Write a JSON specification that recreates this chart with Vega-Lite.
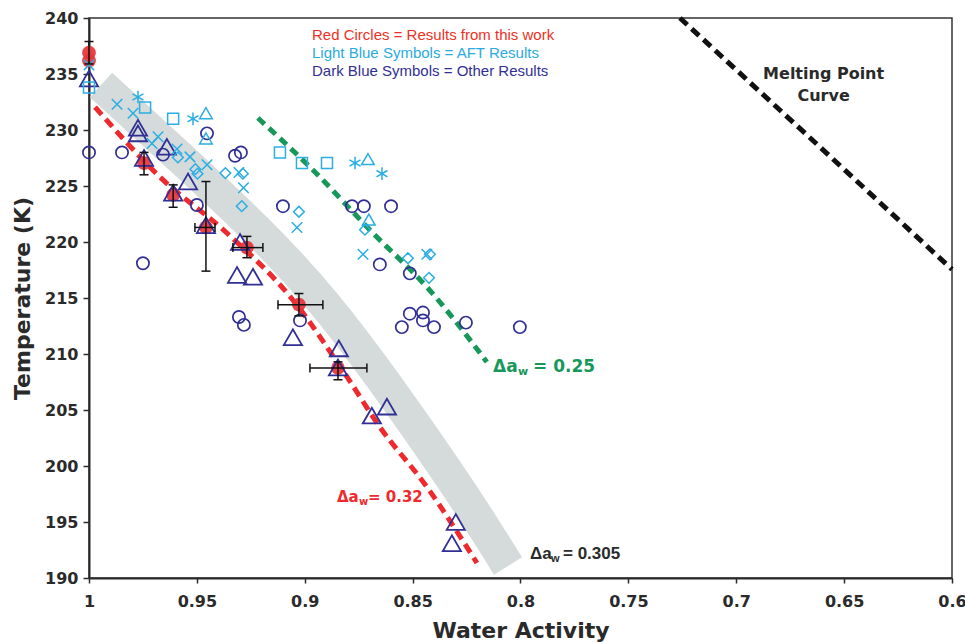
{
  "$schema": "https://vega.github.io/schema/vega-lite/v6.json",
  "width": 863,
  "height": 560,
  "autosize": {"type": "none"},
  "padding": {"left": 89, "top": 18, "right": 13, "bottom": 65},
  "background": "white",
  "config": {
    "view": {"stroke": "#333333", "strokeWidth": 1.5},
    "axis": {
      "grid": false,
      "domainColor": "#2a2a2a",
      "domainWidth": 2,
      "tickColor": "#2a2a2a",
      "tickWidth": 1.5,
      "labelFont": "DejaVu Sans",
      "labelFontWeight": "bold",
      "labelFontSize": 16,
      "labelColor": "#2a2a2a",
      "titleFont": "DejaVu Sans",
      "titleFontWeight": "bold",
      "titleFontSize": 22,
      "titleColor": "#2a2a2a",
      "labelFlush": false,
      "labelOverlap": false
    }
  },
  "datasets": {
    "band": [
      {"aw": 0.99444, "T": 234.02},
      {"aw": 0.95643, "T": 227.32},
      {"aw": 0.92167, "T": 221.07},
      {"aw": 0.89108, "T": 214.82},
      {"aw": 0.85678, "T": 205.89},
      {"aw": 0.8248, "T": 196.96},
      {"aw": 0.80579, "T": 191.07}
    ],
    "melt": [
      {"aw": 0.7261, "T": 240.0},
      {"aw": 0.6627, "T": 228.75},
      {"aw": 0.6, "T": 217.55}
    ],
    "redLine": [
      {"aw": 0.9972, "T": 232.05},
      {"aw": 0.9671, "T": 225.8},
      {"aw": 0.9361, "T": 220.8},
      {"aw": 0.9055, "T": 214.82},
      {"aw": 0.8804, "T": 207.95},
      {"aw": 0.8652, "T": 203.48},
      {"aw": 0.8434, "T": 198.13},
      {"aw": 0.8202, "T": 191.34}
    ],
    "greenLine": [
      {"aw": 0.9217, "T": 231.07},
      {"aw": 0.8962, "T": 226.43},
      {"aw": 0.8684, "T": 220.8},
      {"aw": 0.8434, "T": 215.98},
      {"aw": 0.8156, "T": 209.29}
    ],
    "errV": [
      {"aw": 1.0, "lo": 235.9, "hi": 237.9},
      {"aw": 0.9745, "lo": 226.0, "hi": 228.0},
      {"aw": 0.961, "lo": 223.1, "hi": 225.1},
      {"aw": 0.9458, "lo": 217.4, "hi": 225.4},
      {"aw": 0.9268, "lo": 218.6, "hi": 220.5},
      {"aw": 0.9027, "lo": 213.4, "hi": 215.4},
      {"aw": 0.8846, "lo": 207.7, "hi": 209.3}
    ],
    "errH": [
      {"T": 221.3, "lo": 0.9416, "hi": 0.9509},
      {"T": 219.5, "lo": 0.9194, "hi": 0.9333},
      {"T": 214.4, "lo": 0.8916, "hi": 0.9124},
      {"T": 208.75, "lo": 0.8712, "hi": 0.8976}
    ],
    "pts": [
      {"kind": "red", "aw": 1.0, "T": 236.9},
      {"kind": "red", "aw": 1.0, "T": 236.2},
      {"kind": "red", "aw": 0.9745, "T": 227.05},
      {"kind": "red", "aw": 0.961, "T": 224.2},
      {"kind": "red", "aw": 0.9458, "T": 221.3},
      {"kind": "red", "aw": 0.9268, "T": 219.5},
      {"kind": "red", "aw": 0.9027, "T": 214.4},
      {"kind": "red", "aw": 0.8846, "T": 208.75},

      {"kind": "tri", "aw": 1.0, "T": 234.6},
      {"kind": "tri", "aw": 0.9773, "T": 230.2},
      {"kind": "tri", "aw": 0.9773, "T": 229.7},
      {"kind": "tri", "aw": 0.9745, "T": 227.5},
      {"kind": "tri", "aw": 0.9639, "T": 228.5},
      {"kind": "tri", "aw": 0.961, "T": 224.4},
      {"kind": "tri", "aw": 0.9541, "T": 225.4},
      {"kind": "tri", "aw": 0.9458, "T": 221.5},
      {"kind": "tri", "aw": 0.93, "T": 220.0},
      {"kind": "tri", "aw": 0.9314, "T": 217.05},
      {"kind": "tri", "aw": 0.924, "T": 216.9},
      {"kind": "tri", "aw": 0.9055, "T": 211.5},
      {"kind": "tri", "aw": 0.8842, "T": 210.5},
      {"kind": "tri", "aw": 0.8846, "T": 208.8},
      {"kind": "tri", "aw": 0.8619, "T": 205.3},
      {"kind": "tri", "aw": 0.8689, "T": 204.5},
      {"kind": "tri", "aw": 0.83, "T": 195.0},
      {"kind": "tri", "aw": 0.8318, "T": 193.1},

      {"kind": "circ", "aw": 1.0, "T": 228.0},
      {"kind": "circ", "aw": 0.9847, "T": 228.0},
      {"kind": "circ", "aw": 0.975, "T": 218.1},
      {"kind": "circ", "aw": 0.9657, "T": 227.8},
      {"kind": "circ", "aw": 0.95, "T": 223.3},
      {"kind": "circ", "aw": 0.9453, "T": 229.7},
      {"kind": "circ", "aw": 0.9323, "T": 227.7},
      {"kind": "circ", "aw": 0.9296, "T": 228.0},
      {"kind": "circ", "aw": 0.9305, "T": 213.3},
      {"kind": "circ", "aw": 0.9282, "T": 212.6},
      {"kind": "circ", "aw": 0.9022, "T": 213.0},
      {"kind": "circ", "aw": 0.9101, "T": 223.2},
      {"kind": "circ", "aw": 0.8781, "T": 223.2},
      {"kind": "circ", "aw": 0.8726, "T": 223.2},
      {"kind": "circ", "aw": 0.86, "T": 223.2},
      {"kind": "circ", "aw": 0.8652, "T": 218.0},
      {"kind": "circ", "aw": 0.8513, "T": 217.2},
      {"kind": "circ", "aw": 0.8513, "T": 213.6},
      {"kind": "circ", "aw": 0.8452, "T": 213.7},
      {"kind": "circ", "aw": 0.8452, "T": 213.0},
      {"kind": "circ", "aw": 0.855, "T": 212.4},
      {"kind": "circ", "aw": 0.8401, "T": 212.4},
      {"kind": "circ", "aw": 0.8253, "T": 212.8},
      {"kind": "circ", "aw": 0.8003, "T": 212.4},

      {"kind": "sq", "aw": 1.0, "T": 233.8},
      {"kind": "sq", "aw": 0.974, "T": 232.0},
      {"kind": "sq", "aw": 0.961, "T": 231.0},
      {"kind": "sq", "aw": 0.9115, "T": 228.0},
      {"kind": "sq", "aw": 0.9013, "T": 227.05},
      {"kind": "sq", "aw": 0.8897, "T": 227.05},

      {"kind": "x", "aw": 1.0, "T": 235.8},
      {"kind": "x", "aw": 0.987, "T": 232.3},
      {"kind": "x", "aw": 0.9796, "T": 231.5},
      {"kind": "x", "aw": 0.9708, "T": 228.8},
      {"kind": "x", "aw": 0.968, "T": 229.4},
      {"kind": "x", "aw": 0.9592, "T": 228.3},
      {"kind": "x", "aw": 0.9532, "T": 227.6},
      {"kind": "x", "aw": 0.9453, "T": 226.9},
      {"kind": "x", "aw": 0.9305, "T": 226.2},
      {"kind": "x", "aw": 0.9284, "T": 224.85},
      {"kind": "x", "aw": 0.9036, "T": 221.3},
      {"kind": "x", "aw": 0.873, "T": 218.9},
      {"kind": "x", "aw": 0.8434, "T": 218.9},

      {"kind": "ast", "aw": 0.9773, "T": 232.95},
      {"kind": "ast", "aw": 0.9518, "T": 231.0},
      {"kind": "ast", "aw": 0.8767, "T": 227.05},
      {"kind": "ast", "aw": 0.8642, "T": 226.1},

      {"kind": "dia", "aw": 0.9588, "T": 227.55},
      {"kind": "dia", "aw": 0.9507, "T": 226.5},
      {"kind": "dia", "aw": 0.9497, "T": 226.1},
      {"kind": "dia", "aw": 0.9368, "T": 226.15},
      {"kind": "dia", "aw": 0.9287, "T": 226.1},
      {"kind": "dia", "aw": 0.9292, "T": 223.2},
      {"kind": "dia", "aw": 0.9027, "T": 222.7},
      {"kind": "dia", "aw": 0.8721, "T": 221.1},
      {"kind": "dia", "aw": 0.8522, "T": 218.55},
      {"kind": "dia", "aw": 0.842, "T": 218.9},
      {"kind": "dia", "aw": 0.8424, "T": 216.8},

      {"kind": "ltri", "aw": 0.9458, "T": 231.5},
      {"kind": "ltri", "aw": 0.9458, "T": 229.25},
      {"kind": "ltri", "aw": 0.8707, "T": 227.4},
      {"kind": "ltri", "aw": 0.8703, "T": 222.0}
    ],
    "texts": [
      {"grp": "legRed", "text": "Red Circles = Results from this work", "aw": 0.89664, "T": 238.48},
      {"grp": "legLight", "text": "Light Blue Symbols = AFT Results", "aw": 0.89664, "T": 236.875},
      {"grp": "legDark", "text": "Dark Blue Symbols = Other Results", "aw": 0.89664, "T": 235.27},
      {"grp": "melt", "text": "Melting Point", "aw": 0.6595, "T": 235.0},
      {"grp": "melt", "text": "Curve", "aw": 0.6595, "T": 233.04},
      {"grp": "gMain", "text": "Δa", "aw": 0.81275, "T": 208.84},
      {"grp": "gSub", "text": "w", "aw": 0.80116, "T": 208.84},
      {"grp": "gMain", "text": "= 0.25", "aw": 0.79421, "T": 208.84},
      {"grp": "rMain", "text": "Δa", "aw": 0.88505, "T": 197.23},
      {"grp": "rSub", "text": "w", "aw": 0.87486, "T": 197.23},
      {"grp": "rMain", "text": "= 0.32", "aw": 0.87068, "T": 197.23},
      {"grp": "kMain", "text": "Δa", "aw": 0.7956, "T": 192.14},
      {"grp": "kSub", "text": "w", "aw": 0.78586, "T": 192.14},
      {"grp": "kMain", "text": "= 0.305", "aw": 0.7803, "T": 192.14}
    ]
  },
  "encoding": {
    "x": {
      "field": "aw",
      "type": "quantitative",
      "title": "Water Activity",
      "scale": {"domain": [0.6, 1], "reverse": true, "nice": false, "zero": false},
      "axis": {
        "values": [1, 0.95, 0.9, 0.85, 0.8, 0.75, 0.7, 0.65, 0.6],
        "format": "~g",
        "tickSize": 5,
        "labelPadding": 10,
        "titleY": 52,
        "titleBaseline": "middle"
      }
    },
    "y": {
      "field": "T",
      "type": "quantitative",
      "title": "Temperature (K)",
      "scale": {"domain": [190, 240], "nice": false, "zero": false},
      "axis": {
        "values": [190, 195, 200, 205, 210, 215, 220, 225, 230, 235, 240],
        "tickSize": 6,
        "labelPadding": 5,
        "titleX": -67,
        "titleBaseline": "middle"
      }
    }
  },
  "layer": [
    {
      "data": {"name": "band"},
      "mark": {"type": "line", "color": "#d5dadb", "strokeWidth": 33, "strokeCap": "butt", "interpolate": "basis"}
    },
    {
      "data": {"name": "melt"},
      "mark": {"type": "line", "color": "#111111", "strokeWidth": 5, "strokeDash": [10, 6]}
    },
    {
      "data": {"name": "redLine"},
      "mark": {"type": "line", "color": "#ee2a2f", "strokeWidth": 5, "strokeDash": [10, 6], "interpolate": "monotone"}
    },
    {
      "data": {"name": "greenLine"},
      "mark": {"type": "line", "color": "#17985a", "strokeWidth": 5, "strokeDash": [9, 6], "interpolate": "monotone"}
    },
    {
      "data": {"name": "pts"},
      "transform": [{"filter": "datum.kind === 'red'"}],
      "mark": {"type": "point", "shape": "circle", "filled": true, "color": "#e6333a", "opacity": 0.92, "size": 190}
    },
    {
      "data": {"name": "pts"},
      "transform": [{"filter": "datum.kind === 'circ'"}],
      "mark": {"type": "point", "shape": "circle", "filled": false, "color": "#312f94", "strokeWidth": 1.7, "size": 150, "opacity": 1}
    },
    {
      "data": {"name": "pts"},
      "transform": [{"filter": "datum.kind === 'tri'"}],
      "mark": {"type": "point", "shape": "triangle-up", "filled": false, "color": "#312f94", "strokeWidth": 1.8, "size": 330, "opacity": 1}
    },
    {
      "data": {"name": "pts"},
      "transform": [{"filter": "datum.kind === 'sq'"}],
      "mark": {"type": "point", "shape": "square", "filled": false, "color": "#2aaee4", "strokeWidth": 1.5, "size": 121, "opacity": 1}
    },
    {
      "data": {"name": "pts"},
      "transform": [{"filter": "datum.kind === 'dia'"}],
      "mark": {"type": "point", "shape": "diamond", "filled": false, "color": "#2aaee4", "strokeWidth": 1.5, "size": 115, "opacity": 1}
    },
    {
      "data": {"name": "pts"},
      "transform": [{"filter": "datum.kind === 'ltri'"}],
      "mark": {"type": "point", "shape": "triangle-up", "filled": false, "color": "#2aaee4", "strokeWidth": 1.5, "size": 160, "opacity": 1}
    },
    {
      "data": {"name": "pts"},
      "transform": [{"filter": "datum.kind === 'x'"}],
      "mark": {"type": "point", "shape": "M-1,-1L1,1M-1,1L1,-1", "filled": false, "color": "#2aaee4", "strokeWidth": 1.5, "size": 110, "opacity": 1}
    },
    {
      "data": {"name": "pts"},
      "transform": [{"filter": "datum.kind === 'ast'"}],
      "mark": {"type": "point", "shape": "M0,-1L0,1M-0.87,-0.5L0.87,0.5M-0.87,0.5L0.87,-0.5", "filled": false, "color": "#2aaee4", "strokeWidth": 1.5, "size": 160, "opacity": 1}
    },
    {
      "data": {"name": "errV"},
      "mark": {"type": "rule", "color": "#111111", "strokeWidth": 1.5},
      "encoding": {
        "y": {"field": "lo", "type": "quantitative", "scale": {"domain": [190, 240], "nice": false, "zero": false}},
        "y2": {"field": "hi"}
      }
    },
    {
      "data": {"name": "errV"},
      "transform": [{"fold": ["lo", "hi"], "as": ["k", "v"]}],
      "mark": {"type": "tick", "orient": "horizontal", "color": "#111111", "thickness": 1.5, "size": 9, "opacity": 1},
      "encoding": {
        "y": {"field": "v", "type": "quantitative", "scale": {"domain": [190, 240], "nice": false, "zero": false}}
      }
    },
    {
      "data": {"name": "errH"},
      "mark": {"type": "rule", "color": "#111111", "strokeWidth": 1.5},
      "encoding": {
        "x": {"field": "lo", "type": "quantitative", "scale": {"domain": [0.6, 1], "reverse": true, "nice": false, "zero": false}},
        "x2": {"field": "hi"}
      }
    },
    {
      "data": {"name": "errH"},
      "transform": [{"fold": ["lo", "hi"], "as": ["k", "v"]}],
      "mark": {"type": "tick", "orient": "vertical", "color": "#111111", "thickness": 1.5, "size": 9, "opacity": 1},
      "encoding": {
        "x": {"field": "v", "type": "quantitative", "scale": {"domain": [0.6, 1], "reverse": true, "nice": false, "zero": false}}
      }
    },
    {
      "data": {"name": "texts"},
      "transform": [{"filter": "datum.grp === 'legRed'"}],
      "mark": {"type": "text", "align": "left", "baseline": "middle", "font": "Liberation Sans", "fontSize": 15, "color": "#ee3124"},
      "encoding": {"text": {"field": "text"}}
    },
    {
      "data": {"name": "texts"},
      "transform": [{"filter": "datum.grp === 'legLight'"}],
      "mark": {"type": "text", "align": "left", "baseline": "middle", "font": "Liberation Sans", "fontSize": 15, "color": "#29abe2"},
      "encoding": {"text": {"field": "text"}}
    },
    {
      "data": {"name": "texts"},
      "transform": [{"filter": "datum.grp === 'legDark'"}],
      "mark": {"type": "text", "align": "left", "baseline": "middle", "font": "Liberation Sans", "fontSize": 15, "color": "#312f94"},
      "encoding": {"text": {"field": "text"}}
    },
    {
      "data": {"name": "texts"},
      "transform": [{"filter": "datum.grp === 'melt'"}],
      "mark": {"type": "text", "align": "center", "baseline": "middle", "font": "DejaVu Sans", "fontWeight": "bold", "fontSize": 16, "color": "#2a2a2a"},
      "encoding": {"text": {"field": "text"}}
    },
    {
      "data": {"name": "texts"},
      "transform": [{"filter": "datum.grp === 'gMain'"}],
      "mark": {"type": "text", "align": "left", "baseline": "middle", "font": "DejaVu Sans", "fontWeight": "bold", "fontSize": 17, "color": "#17985a"},
      "encoding": {"text": {"field": "text"}}
    },
    {
      "data": {"name": "texts"},
      "transform": [{"filter": "datum.grp === 'gSub'"}],
      "mark": {"type": "text", "align": "left", "baseline": "middle", "dy": 5, "font": "DejaVu Sans", "fontWeight": "bold", "fontSize": 11, "color": "#17985a"},
      "encoding": {"text": {"field": "text"}}
    },
    {
      "data": {"name": "texts"},
      "transform": [{"filter": "datum.grp === 'rMain'"}],
      "mark": {"type": "text", "align": "left", "baseline": "middle", "font": "DejaVu Sans", "fontWeight": "bold", "fontSize": 15, "color": "#ee2a2f"},
      "encoding": {"text": {"field": "text"}}
    },
    {
      "data": {"name": "texts"},
      "transform": [{"filter": "datum.grp === 'rSub'"}],
      "mark": {"type": "text", "align": "left", "baseline": "middle", "dy": 5, "font": "DejaVu Sans", "fontWeight": "bold", "fontSize": 10, "color": "#ee2a2f"},
      "encoding": {"text": {"field": "text"}}
    },
    {
      "data": {"name": "texts"},
      "transform": [{"filter": "datum.grp === 'kMain'"}],
      "mark": {"type": "text", "align": "left", "baseline": "middle", "font": "Liberation Sans", "fontWeight": "bold", "fontSize": 17, "color": "#2a2a2a"},
      "encoding": {"text": {"field": "text"}}
    },
    {
      "data": {"name": "texts"},
      "transform": [{"filter": "datum.grp === 'kSub'"}],
      "mark": {"type": "text", "align": "left", "baseline": "middle", "dy": 5, "font": "Liberation Sans", "fontWeight": "bold", "fontSize": 11, "color": "#2a2a2a"},
      "encoding": {"text": {"field": "text"}}
    }
  ]
}
